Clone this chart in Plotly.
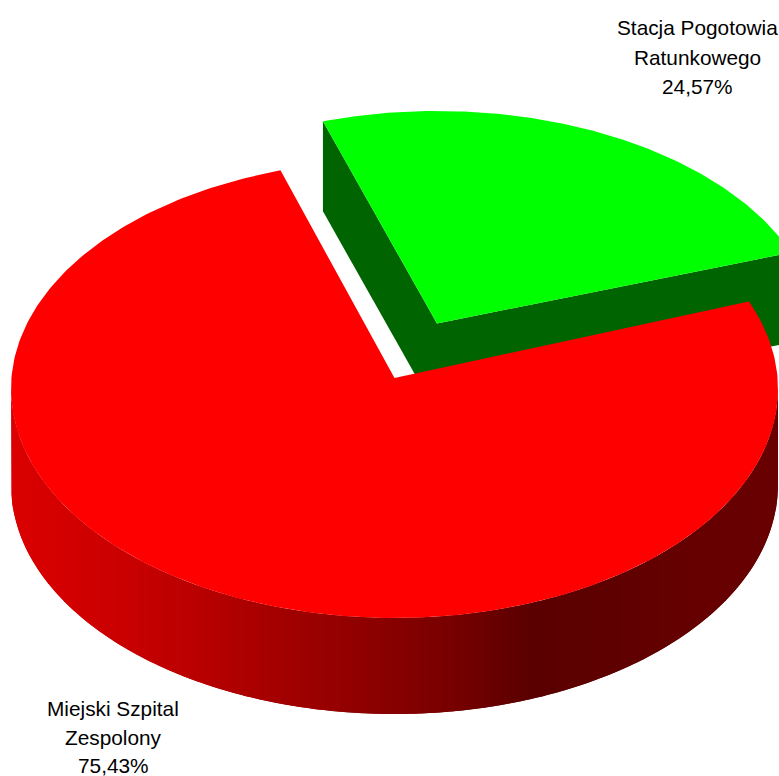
import numpy as np
import plotly.graph_objects as go

# --- data ---
categories_first_line = ["Stacja Pogotowia", "Miejski Szpital"]
categories_second_line = ["Ratunkowego", "Zespolony"]
shares = [24.57, 75.43]

# --- drawing parameters ---
W, H = 779, 776
RX, RY = 383.5, 229.0
START_DEG = -17.3
FORESHORTEN = 0.959
GREEN = dict(cx=437.0, cy=340.0, lift=16.5, depth=90.0)
RED = dict(cx=394.5, cy=389.0, lift=11.0, depth=96.0)
GREEN_TOP, GREEN_WALL = "#00ff00", "#006400"
RED_TOP = "#ff0000"
WALL_STOP_X = [11, 60, 130, 200, 290, 350, 450, 530, 600, 700, 778]
WALL_STOP_R = [218, 212, 200, 184, 160, 146, 120, 90, 94, 102, 104]


def rim(g, deg):
    t = np.radians(np.asarray(deg, dtype=float))
    return g["cx"] + RX * np.sin(t), g["cy"] - RY * np.cos(t)


def poly(fig, xs, ys, color, width=0.0):
    fig.add_trace(go.Scatter(
        x=list(xs), y=list(ys), mode="lines", fill="toself", fillcolor=color,
        line=dict(color=color, width=width), hoverinfo="skip", showlegend=False,
    ))


fig = go.Figure()

sweep = 360 * shares[0] / 100 * FORESHORTEN
g0, g1 = START_DEG, START_DEG + sweep
r0, r1 = g1, START_DEG + 360

# green slice: walls then top
ax, ay = GREEN["cx"], GREEN["cy"] - GREEN["lift"]
d = GREEN["depth"]
sx, sy = rim(GREEN, g0)
ex, ey = rim(GREEN, g1)
poly(fig, [ax, sx, sx, ax, ax], [ay, sy, sy + d, ay + d, ay], GREEN_WALL)
poly(fig, [ax, ex, ex, ax, ax], [ay, ey, ey + d, ay + d, ay], GREEN_WALL)
arc = np.linspace(g1, 90, 30)
ox, oy = rim(GREEN, arc)
poly(fig, np.r_[ox, ox[::-1]], np.r_[oy, oy[::-1] + d], GREEN_WALL)
arc = np.linspace(g0, g1, 120)
tx, ty = rim(GREEN, arc)
poly(fig, np.r_[ax, tx, ax], np.r_[ay, ty, ay], GREEN_TOP)

# red slice: shaded wall then top; bands overlap so no seams appear
d = RED["depth"]
band_x = np.arange(RED["cx"] + RX, RED["cx"] - RX - 2.0, -2.0)
band_x = np.clip(band_x, RED["cx"] - RX, RED["cx"] + RX)
band_deg = 180 - np.degrees(np.arcsin((band_x - RED["cx"]) / RX))
for i in range(len(band_deg) - 1):
    a0 = band_deg[max(i - 1, 0)]
    a1 = band_deg[i + 1]
    arc = np.linspace(a0, a1, 4)
    xa, ya = rim(RED, arc)
    shade = int(round(np.interp(band_x[i], WALL_STOP_X, WALL_STOP_R)))
    poly(fig, np.r_[xa, xa[::-1], xa[0]], np.r_[ya, ya[::-1] + d, ya[0]], f"rgb({shade},0,0)")
ax, ay = RED["cx"], RED["cy"] - RED["lift"]
arc = np.linspace(r0, r1, 300)
tx, ty = rim(RED, arc)
poly(fig, np.r_[ax, tx, ax], np.r_[ay, ty, ay], RED_TOP)

# labels
LABEL_FONT = dict(family="Liberation Sans, Arial", size=20.8, color="#000000")
LABEL_X = [697.5, 113.0]
LABEL_Y = [[27.5, 57, 86], [708, 737, 765]]
for i in range(2):
    lines = [categories_first_line[i], categories_second_line[i],
             f"{shares[i]:.2f}%".replace(".", ",")]
    for text, y in zip(lines, LABEL_Y[i]):
        fig.add_annotation(x=LABEL_X[i], y=y, text=text, showarrow=False,
                           xanchor="center", yanchor="middle", font=LABEL_FONT)

fig.update_layout(
    width=W, height=H, margin=dict(l=0, r=0, t=0, b=0),
    paper_bgcolor="white", plot_bgcolor="white", showlegend=False,
    xaxis=dict(range=[0, W], visible=False, fixedrange=True),
    yaxis=dict(range=[H, 0], visible=False, fixedrange=True),
)
fig.write_html("out.html", config={"displayModeBar": False},
               post_script="document.body.style.margin='0';")
